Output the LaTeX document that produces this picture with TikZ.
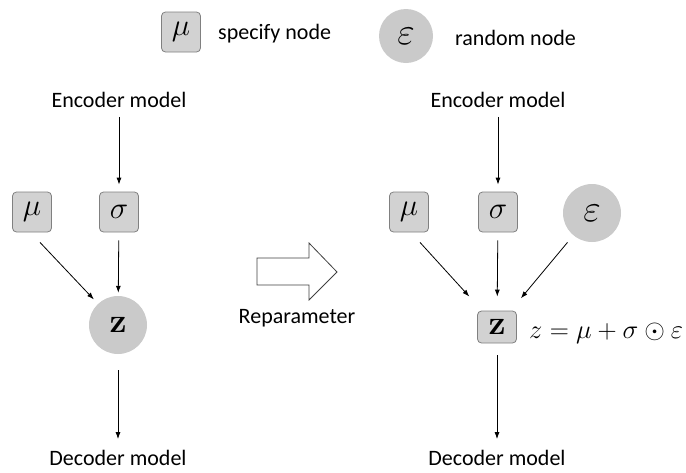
\RequirePackage{fix-cm}
\documentclass[tikz,border=0pt]{standalone}
\usepackage[no-math]{fontspec}
\setmainfont{Carlito}
\usetikzlibrary{arrows.meta}
\definecolor{boxfill}{RGB}{210,210,210}
\definecolor{boxline}{RGB}{128,128,128}
\definecolor{circfill}{RGB}{202,202,202}
\begin{document}
\begin{tikzpicture}[x=1pt,y=-1pt,
  txt/.style={font=\fontsize{22}{25}\selectfont, inner sep=3pt},
  spec/.style={draw=boxline, line width=0.8pt, fill=boxfill, rounded corners=4pt,
    minimum width=39pt, minimum height=40pt, inner sep=0pt,
    font=\fontsize{31}{33}\selectfont},
  rnd/.style={circle, fill=circfill, draw=none, minimum size=58pt, inner sep=0pt,
    font=\fontsize{31}{33}\selectfont},
  bigz/.style={font=\fontsize{34}{36}\selectfont},
  bige/.style={font=\fontsize{38}{40}\selectfont},
  arr/.style={-{Latex[length=7pt,width=5pt]}, line width=0.8pt}
]
\useasboundingbox (0,0) rectangle (686,472);

% legend
\node[spec] (legmu) at (181,32) {$\mu$};
\node[txt, anchor=west] (legspec) at (215,34) {specify node};
\node[rnd, bige, minimum size=54pt] (legeps) at (406,36) {$\varepsilon$};
\node[txt, anchor=west] (legrnd) at (452,38) {random node};

% left
\node[txt] (encL) at (119,100) {Encoder model};
\node[spec] (muL) at (32,212) {$\mu$};
\node[spec] (sigL) at (119,212) {$\sigma$};
\node[rnd, bigz] (zL) at (118,325) {$\mathbf{z}$};
\node[txt] (decL) at (118,458) {Decoder model};

\draw[arr, shorten <=6pt, shorten >=7pt] (encL) -- (sigL);
\draw[arr, shorten >=6pt] ([xshift=8pt,yshift=-10pt]muL.south) -- (zL);
\draw[arr, shorten <=8pt, shorten >=3pt] (sigL) -- (zL);
\draw[arr, shorten <=16pt, shorten >=8pt] (zL) -- (decL);

% reparameter arrow
\draw[line width=0.8pt, draw=black!75, fill=white]
  (257,258) -- (309,258) -- (309,243) -- (337,272) -- (309,300) -- (309,285) -- (257,285) -- cycle;
\node[txt] (rep) at (297,318) {Reparameter};

% right
\node[txt] (encR) at (498,100) {Encoder model};
\node[spec] (muR) at (409,212) {$\mu$};
\node[spec] (sigR) at (498,212) {$\sigma$};
\node[rnd, bige] (epsR) at (592,213) {$\varepsilon$};
\node[spec, bigz, minimum height=32pt] (zR) at (497,327) {$\mathbf{z}$};
\node[anchor=west, inner sep=0pt, font=\fontsize{26.5}{29}\selectfont] (form) at (529,333) {$z=\mu+\sigma\odot\varepsilon$};
\node[txt] (decR) at (497,458) {Decoder model};

\draw[arr, shorten <=6pt, shorten >=7pt] (encR) -- (sigR);
\draw[arr, shorten >=19pt] ([xshift=11pt,yshift=-10pt]muR.south) -- (zR);
\draw[arr, shorten <=8pt, shorten >=14pt] (sigR) -- (zR);
\draw[arr, shorten <=9pt, shorten >=16pt] (epsR) -- (zR);
\draw[arr, shorten <=12pt, shorten >=8pt] (zR) -- (decR);
\end{tikzpicture}
\end{document}
